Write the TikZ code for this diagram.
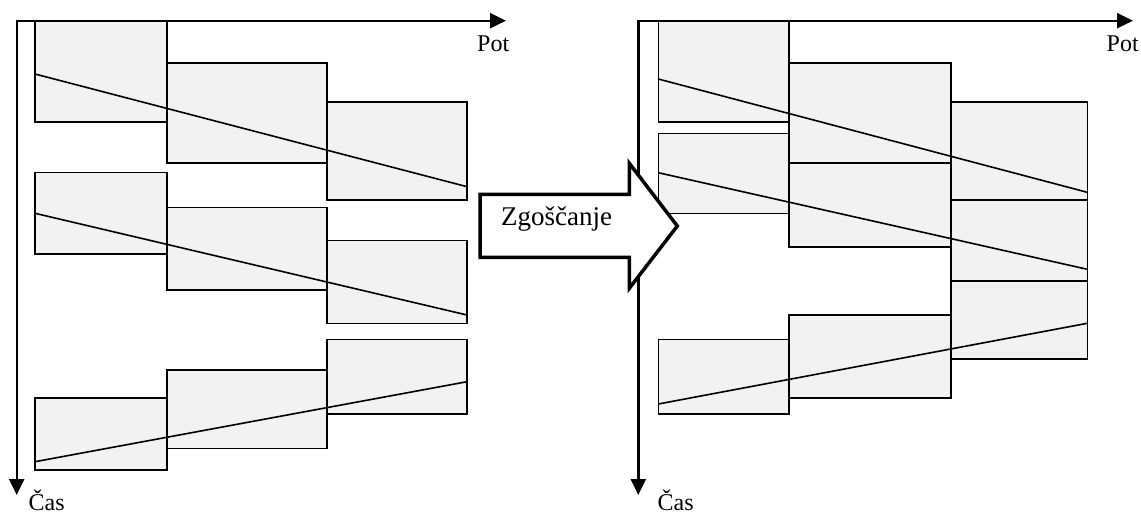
\documentclass[tikz,border=0pt]{standalone}
\usepackage{fontspec}
\setmainfont{Liberation Serif}
\usetikzlibrary{arrows.meta}
\definecolor{cellfill}{HTML}{F2F2F2}
\tikzset{
  cell/.style={draw=black, fill=cellfill, line width=1.6pt},
  trend/.style={draw=black, line width=1.6pt},
  axis/.style={line width=2.4pt, line join=miter,
    {Triangle[length=16pt,width=15pt]}-{Triangle[length=16pt,width=15pt]}},
  bigarrow/.style={draw=black, fill=white, line width=3.5pt, line join=miter},
  lab/.style={inner sep=0pt, anchor=base west, font=\fontsize{24}{24}\selectfont},
  biglab/.style={inner sep=0pt, anchor=base west, font=\fontsize{27}{27}\selectfont}
}
\begin{document}
\begin{tikzpicture}[x=1pt,y=-1pt]
\useasboundingbox (0,0) rectangle (1141,515);

% ---------------- left panel ----------------
\coordinate (oL) at (16.7,20.7);
\coordinate (xL) at (506,20.7);
\coordinate (yL) at (16.7,495);

% first job
\draw[cell] (35,20.7) rectangle (167,121.7);
\draw[cell] (167,62.7) rectangle (327,162.7);
\draw[cell] (327,101.7) rectangle (467,200);
\coordinate (l1a) at (35,74);
\coordinate (l1b) at (467,186.7);
\draw[trend] (l1a) -- (l1b);

% second job
\draw[cell] (35,172.3) rectangle (167,254);
\draw[cell] (167,207.3) rectangle (327,290);
\draw[cell] (327,240.3) rectangle (467,323.3);
\coordinate (l2a) at (35,213.3);
\coordinate (l2b) at (467,315);
\draw[trend] (l2a) -- (l2b);

% third job
\draw[cell] (35,397.7) rectangle (167,469.7);
\draw[cell] (167,370) rectangle (327,448.3);
\draw[cell] (327,339.3) rectangle (467,414);
\coordinate (l3a) at (35,461.7);
\coordinate (l3b) at (467,381.7);
\draw[trend] (l3a) -- (l3b);

\draw[axis] (xL) -- (oL) -- (yL);
\node[lab] (potL) at (477,51.7) {Pot};
\node[lab] (casL) at (28.5,510.5) {Čas};

% ---------------- right panel ----------------
\coordinate (oR) at (638.3,20.7);
\coordinate (xR) at (1133,20.7);
\coordinate (yR) at (638.3,495);

% first job
\draw[cell] (658.3,20.7) rectangle (789,121.7);
\draw[cell] (789,62.7) rectangle (950.7,162.7);
\draw[cell] (950.7,101.7) rectangle (1087.3,200);
\coordinate (r1a) at (658.3,79);
\coordinate (r1b) at (1087.3,192.3);
\draw[trend] (r1a) -- (r1b);

% second job
\draw[cell] (658.3,133.3) rectangle (789,213.3);
\draw[cell] (789,162.7) rectangle (950.7,246.7);
\draw[cell] (950.7,200) rectangle (1087.3,281);
\coordinate (r2a) at (658.3,172.7);
\coordinate (r2b) at (1087.3,269.3);
\draw[trend] (r2a) -- (r2b);

% third job
\draw[cell] (658.3,339.3) rectangle (789,414);
\draw[cell] (789,315) rectangle (950.7,397.7);
\draw[cell] (950.7,281) rectangle (1087.3,359);
\coordinate (r3a) at (658.3,404);
\coordinate (r3b) at (1087.3,323.3);
\draw[trend] (r3a) -- (r3b);

\draw[axis] (xR) -- (oR) -- (yR);
\node[lab] (potR) at (1106.5,51.7) {Pot};
\node[lab] (casR) at (657.5,510.5) {Čas};

% ---------------- block arrow ----------------
\draw[bigarrow] (480,194.3) -- (629.3,194.3) -- (629.3,163.3) -- (677.3,226)
  -- (629.3,288.3) -- (629.3,257.3) -- (480,257.3) -- cycle;
\node[biglab] (zg) at (501,225) {Zgoščanje};

\end{tikzpicture}
\end{document}
